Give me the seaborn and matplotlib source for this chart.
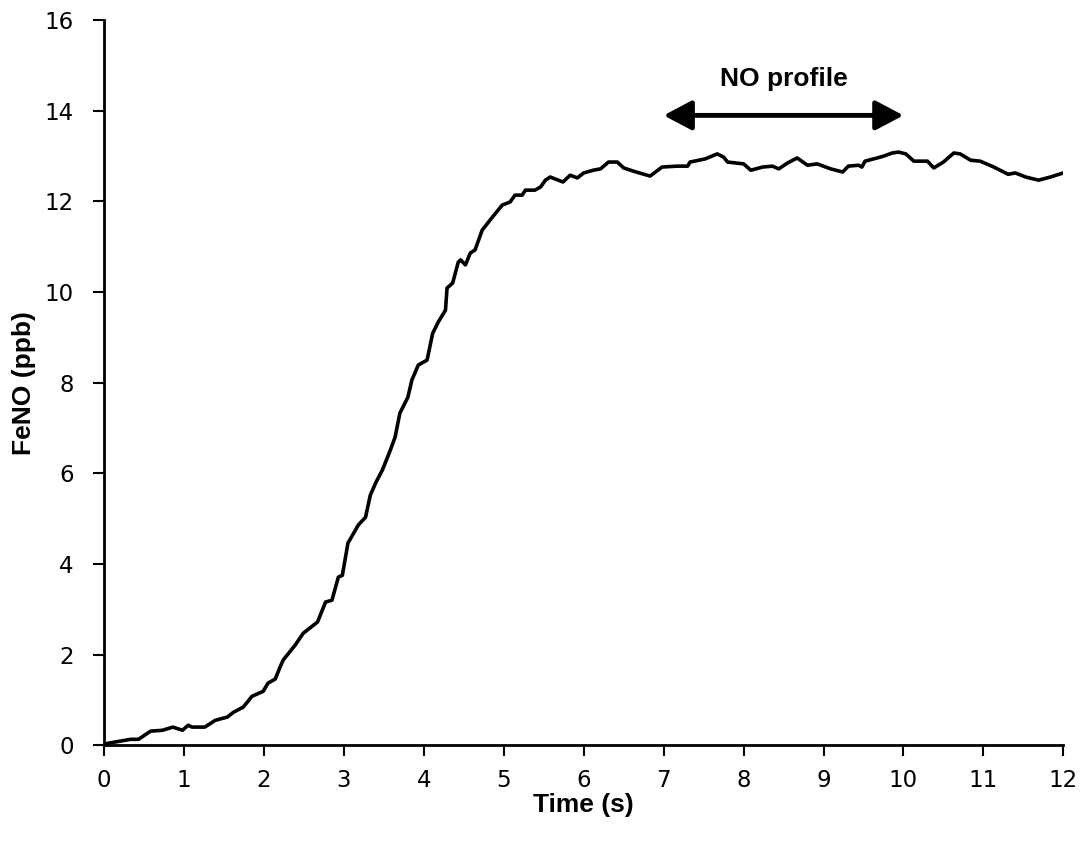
import numpy as np
import pandas as pd
import seaborn as sns
import matplotlib
matplotlib.use("Agg")
import matplotlib.pyplot as plt

# FeNO trace
time_s = [0.0, 0.04, 0.33, 0.43, 0.58, 0.73, 0.86, 0.98, 1.05, 1.10, 1.26, 1.39,
          1.54, 1.62, 1.74, 1.85, 1.99, 2.05, 2.14, 2.20, 2.24, 2.39, 2.49, 2.67,
          2.77, 2.85, 2.93, 2.98, 3.05, 3.18, 3.27, 3.33, 3.40, 3.48, 3.58, 3.64,
          3.70, 3.80, 3.85, 3.93, 4.04, 4.11, 4.18, 4.27, 4.29, 4.36, 4.43, 4.46,
          4.52, 4.58, 4.64, 4.73, 4.86, 4.98, 5.08, 5.14, 5.23, 5.27, 5.39, 5.46,
          5.52, 5.58, 5.74, 5.83, 5.92, 6.00, 6.12, 6.21, 6.31, 6.42, 6.50, 6.62,
          6.83, 6.98, 7.17, 7.30, 7.33, 7.52, 7.67, 7.75, 7.80, 8.00, 8.09, 8.24,
          8.36, 8.44, 8.55, 8.67, 8.80, 8.92, 9.09, 9.24, 9.31, 9.44, 9.48, 9.52,
          9.67, 9.75, 9.86, 9.94, 10.03, 10.13, 10.30, 10.38, 10.50, 10.63, 10.71,
          10.84, 10.96, 11.13, 11.31, 11.40, 11.53, 11.69, 11.84, 12.0]
feno_ppb = [0.0, 0.04, 0.13, 0.13, 0.31, 0.33, 0.40, 0.33, 0.44, 0.40, 0.40, 0.55,
            0.62, 0.73, 0.84, 1.08, 1.19, 1.37, 1.46, 1.72, 1.88, 2.21, 2.47, 2.72,
            3.16, 3.20, 3.71, 3.75, 4.46, 4.86, 5.03, 5.52, 5.80, 6.07, 6.51, 6.80,
            7.33, 7.68, 8.06, 8.39, 8.50, 9.09, 9.34, 9.60, 10.09, 10.20, 10.66, 10.71,
            10.60, 10.86, 10.93, 11.37, 11.66, 11.92, 11.99, 12.14, 12.14, 12.25, 12.25, 12.32,
            12.47, 12.54, 12.43, 12.58, 12.52, 12.63, 12.69, 12.72, 12.87, 12.87, 12.74, 12.67,
            12.56, 12.76, 12.78, 12.78, 12.87, 12.94, 13.05, 12.98, 12.87, 12.83, 12.69, 12.76,
            12.78, 12.72, 12.85, 12.96, 12.80, 12.83, 12.72, 12.65, 12.78, 12.80, 12.76, 12.89,
            12.96, 13.00, 13.07, 13.09, 13.05, 12.89, 12.89, 12.74, 12.87, 13.07, 13.05,
            12.91, 12.89, 12.76, 12.60, 12.63, 12.54, 12.47, 12.54, 12.63]

profile_start = 7.0
profile_end = 10.0
profile_level = 13.9

df = pd.DataFrame({"time": time_s, "feno": feno_ppb})

sns.set_theme(style="ticks")
plt.rcParams["font.family"] = ["DejaVu Sans"]

fig, ax = plt.subplots(figsize=(10.85, 8.43), dpi=100)
fig.subplots_adjust(left=0.096, right=0.980, top=0.976, bottom=0.116)

sns.lineplot(data=df, x="time", y="feno", color="black", linewidth=2.6,
             estimator=None, sort=False, ax=ax)

ax.set_xlim(0, 12)
ax.set_ylim(0, 16)
ax.set_xticks(range(0, 13))
ax.set_yticks(range(0, 17, 2))
ax.tick_params(axis="both", labelsize=16.5, colors="black", width=1.5, length=8, direction="out")
ax.tick_params(axis="x", pad=9)
ax.tick_params(axis="y", pad=14)
for s in ["top", "right"]:
    ax.spines[s].set_visible(False)
for s in ["left", "bottom"]:
    ax.spines[s].set_linewidth(2)
    ax.spines[s].set_color("black")

lab = dict(family="Liberation Sans", fontweight="bold", fontsize=19, color="black")
ax.set_xlabel("Time (s)", labelpad=1, **lab)
ax.set_ylabel("FeNO (ppb)", labelpad=6, **lab)

ax.annotate("", xy=(profile_start, profile_level), xytext=(profile_end, profile_level),
            arrowprops=dict(arrowstyle="<|-|>,head_length=0.85,head_width=0.45",
                            color="black", lw=3.5, mutation_scale=20,
                            shrinkA=0, shrinkB=0))
ax.text((profile_start + profile_end) / 2, 14.7, "NO profile", ha="center", va="center",
        family="Liberation Sans", fontweight="bold", fontsize=19, color="black")

plt.savefig("out.png", dpi=100)
